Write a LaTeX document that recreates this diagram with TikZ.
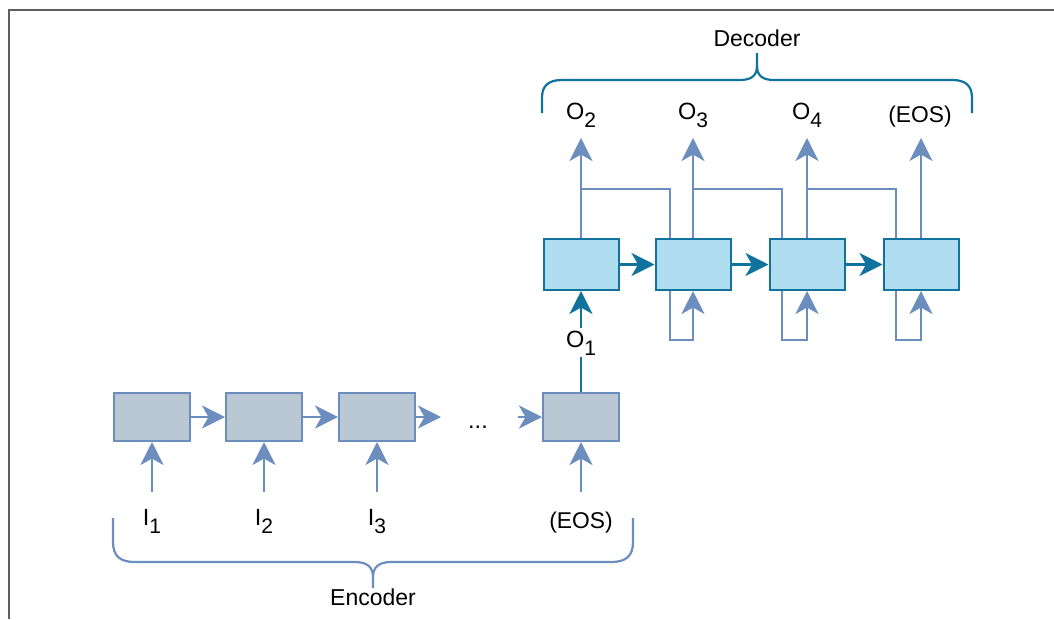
\documentclass[tikz,border=0pt]{standalone}
\usepackage{fontspec}
\setmainfont{Liberation Sans}
\usetikzlibrary{arrows.meta,calc}
\definecolor{lineblue}{HTML}{6C8EBF}
\definecolor{tealline}{HTML}{10739E}
\definecolor{encfill}{HTML}{BAC8D3}
\definecolor{decfill}{HTML}{B1DDF0}
\definecolor{framegray}{HTML}{5F5F63}
% lowered, slightly smaller index digit
\newcommand\lowsub[1]{\raisebox{-8pt}{\fontsize{21}{21}\selectfont #1}}

\begin{document}
\begin{tikzpicture}[x=1pt,y=-1pt,
  encbox/.style={draw=lineblue, fill=encfill, line width=2pt,
    minimum width=76pt, minimum height=48pt, inner sep=0pt},
  decbox/.style={draw=tealline, fill=decfill, line width=2pt,
    minimum width=75pt, minimum height=51pt, inner sep=0pt},
  tip/.style={-{Stealth[length=23pt,width=23pt,inset=6.5pt]}},
  lite/.style={draw=lineblue, line width=2.6pt},
  deep/.style={draw=tealline, line width=2.6pt},
  lab/.style={font=\fontsize{23.5}{23.5}\selectfont, inner sep=0pt, anchor=base},
  eos/.style={font=\fontsize{22.8}{22.8}\selectfont, inner sep=0pt, anchor=base},
  title/.style={font=\fontsize{23}{23}\selectfont, inner sep=0pt},
  brace/.style={line width=2.2pt, line join=round}
]
\useasboundingbox (0,0) rectangle (1054,619);

% outer frame
\draw[framegray, line width=2.5pt] (9,619) -- (9,10) -- (1054,10);

% ---------------- encoder ----------------
\node[encbox] (e1) at (152,417) {};
\node[encbox] (e2) at (264,417) {};
\node[encbox] (e3) at (377,417) {};
\node[encbox] (e4) at (581,417) {};
\node[lab] (dots) at (478,428) {...};

\coordinate (stub) at (441,417);
\coordinate (resume) at (518,417);
\draw[lite,tip] (e1.east) -- (e2.west);
\draw[lite,tip] (e2.east) -- (e3.west);
\draw[lite,tip] (e3.east) -- (stub);
\draw[lite,tip] (resume) -- (e4.west);

\node[lab] (i1) at (152,525) {I\lowsub{1}};
\node[lab] (i2) at (264,525) {I\lowsub{2}};
\node[lab] (i3) at (377,525) {I\lowsub{3}};
\node[eos] (i4) at (581,528) {(EOS)};
\coordinate (a1) at (152,492);
\coordinate (a2) at (264,492);
\coordinate (a3) at (377,492);
\coordinate (a4) at (581,492);
\draw[lite,tip] (a1) -- (e1.south);
\draw[lite,tip] (a2) -- (e2.south);
\draw[lite,tip] (a3) -- (e3.south);
\draw[lite,tip] (a4) -- (e4.south);

% encoder brace
\draw[lineblue,brace]
  (113,518) -- (113,542) .. controls (113,556) and (120,562) .. (135,562)
  -- (355,562) .. controls (367,562) and (373,567) .. (373,577) -- (373,588);
\draw[lineblue,brace]
  (373,577) .. controls (373,567) and (379,562) .. (391,562)
  -- (611,562) .. controls (626,562) and (633,556) .. (633,542) -- (633,518);
\node[title] (enc) at (373,597) {Encoder};

% ---------------- decoder ----------------
\node[decbox] (d1) at (581,264.5) {};
\node[decbox] (d2) at (693,264.5) {};
\node[decbox] (d3) at (807,264.5) {};
\node[decbox] (d4) at (921,264.5) {};

% hand-over from the encoder
\node[lab, inner sep=2pt] (o1) at (581,347) {O\lowsub{1}};
\draw[deep] (e4.north) -- (o1);
\draw[deep,tip] (o1) -- (d1.south);

\draw[deep,tip] (d1.east) -- (d2.west);
\draw[deep,tip] (d2.east) -- (d3.west);
\draw[deep,tip] (d3.east) -- (d4.west);

% outputs
\coordinate (t1) at (581,138);
\coordinate (t2) at (693,138);
\coordinate (t3) at (807,138);
\coordinate (t4) at (921,138);
\draw[lite,tip] (d1.north) -- (t1);
\draw[lite,tip] (d2.north) -- (t2);
\draw[lite,tip] (d3.north) -- (t3);
\draw[lite,tip] (d4.north) -- (t4);

\node[lab] (o2) at (581,119) {O\lowsub{2}};
\node[lab] (o3) at (693,119) {O\lowsub{3}};
\node[lab] (o4) at (807,119) {O\lowsub{4}};
\node[eos] (o5) at (920,122) {(EOS)};

% previous output fed back into the next cell
\coordinate (j1) at (581,189);
\coordinate (j2) at (693,189);
\coordinate (j3) at (807,189);
\coordinate (f2) at (670,340);
\coordinate (f3) at (782,340);
\coordinate (f4) at (896,340);
\draw[lite] (j1) -| (d2.north -| f2);
\draw[lite] (j2) -| (d3.north -| f3);
\draw[lite] (j3) -| (d4.north -| f4);
\draw[lite,tip] (d2.south -| f2) |- (d2.south |- f2) -- (d2.south);
\draw[lite,tip] (d3.south -| f3) |- (d3.south |- f3) -- (d3.south);
\draw[lite,tip] (d4.south -| f4) |- (d4.south |- f4) -- (d4.south);

% decoder brace
\draw[tealline,brace]
  (542,113) -- (542,98) .. controls (542,86) and (548,80) .. (562,80)
  -- (740,80) .. controls (751,80) and (757,76) .. (757,66) -- (757,53);
\draw[tealline,brace]
  (757,66) .. controls (757,76) and (763,80) .. (774,80)
  -- (952,80) .. controls (966,80) and (972,86) .. (972,98) -- (972,113);
\node[title] (dec) at (757,38) {Decoder};
\end{tikzpicture}
\end{document}
